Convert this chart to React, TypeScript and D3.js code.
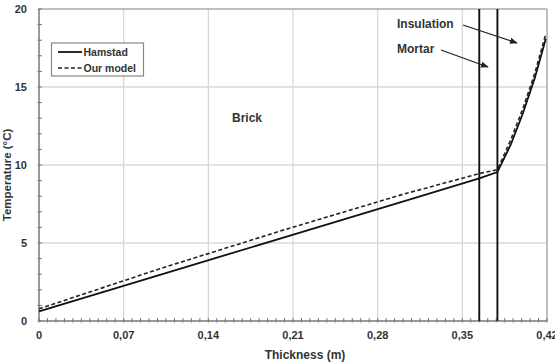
import React from "react";
import * as d3 from "d3";

const xTickValues = [0, 0.07, 0.14, 0.21, 0.28, 0.35, 0.42];
const xTickLabels = ["0", "0,07", "0,14", "0,21", "0,28", "0,35", "0,42"];
const yTickValues = [0, 5, 10, 15, 20];
const yTickLabels = ["0", "5", "10", "15", "20"];

const hamstadX = [0, 0.1, 0.2, 0.3, 0.364, 0.379, 0.39, 0.4, 0.41, 0.419];
const hamstadT = [0.62, 2.96, 5.3, 7.64, 9.14, 9.55, 11.3, 13.3, 15.6, 18.1];
const modelX = [0, 0.1, 0.2, 0.3, 0.364, 0.379, 0.39, 0.4, 0.41, 0.419];
const modelT = [0.78, 3.35, 5.78, 8.1, 9.45, 9.7, 11.6, 13.6, 15.9, 18.4];

const layerBounds = [0.364, 0.379];

const W = 555;
const H = 363;
const FONT = "'Liberation Sans', Arial, sans-serif";

export default function App() {
  const x = d3.scaleLinear().domain([0, 0.42]).range([39, 547]);
  const y = d3.scaleLinear().domain([0, 20]).range([321, 9]);

  const line = d3
    .line<[number, number]>()
    .x((d) => x(d[0]))
    .y((d) => y(d[1]));

  const hamstad = hamstadX.map((v, i) => [v, hamstadT[i]] as [number, number]);
  const model = modelX.map((v, i) => [v, modelT[i]] as [number, number]);

  const xMinor = d3.range(0, 61).map((i) => i * 0.007);
  const yMinor = d3.range(0, 21);

  return (
    <svg
      width={W}
      height={H}
      style={{ position: "absolute", left: 0, top: 0, background: "#fff" }}
      fontFamily={FONT}
    >
      <defs>
        <marker id="arr" viewBox="0 0 10 10" refX="9" refY="5" markerWidth="6" markerHeight="6" orient="auto">
          <path d="M0,1 L10,5 L0,9 z" fill="#222" />
        </marker>
      </defs>
      {/* grid */}
      {xTickValues.slice(1, -1).map((v) => (
        <line key={"gx" + v} x1={x(v)} x2={x(v)} y1={y(20)} y2={y(0)} stroke="#d8d8d8" strokeWidth={1.3} />
      ))}
      {yTickValues.slice(1, -1).map((v) => (
        <line key={"gy" + v} x1={x(0)} x2={x(0.42)} y1={y(v)} y2={y(v)} stroke="#d8d8d8" strokeWidth={1.3} />
      ))}
      {/* frame */}
      <line x1={x(0)} x2={x(0.42)} y1={y(20)} y2={y(20)} stroke="#aaa" strokeWidth={1.5} />
      <line x1={x(0.42)} x2={x(0.42)} y1={y(20)} y2={y(0)} stroke="#aaa" strokeWidth={1.5} />
      <line x1={x(0)} x2={x(0)} y1={y(20)} y2={y(0)} stroke="#777" strokeWidth={1.5} />
      <line x1={x(0)} x2={x(0.42)} y1={y(0)} y2={y(0)} stroke="#777" strokeWidth={1.5} />
      {/* minor ticks */}
      {xMinor.map((v, i) => (
        <line key={"mx" + i} x1={x(v)} x2={x(v)} y1={y(0) - 3} y2={y(0) + 1.5} stroke="#777" strokeWidth={1} />
      ))}
      {yMinor.map((v) => (
        <line key={"my" + v} x1={x(0) - 1.5} x2={x(0) + 3} y1={y(v)} y2={y(v)} stroke="#777" strokeWidth={1} />
      ))}
      {/* tick labels */}
      {xTickValues.map((v, i) => (
        <text key={"xl" + v} x={x(v)} y={339} textAnchor="middle" fontSize={11} fontWeight="bold" fill="#333">
          {xTickLabels[i]}
        </text>
      ))}
      {yTickValues.map((v, i) => (
        <text key={"yl" + v} x={27} y={y(v) + 4} textAnchor="end" fontSize={11} fontWeight="bold" fill="#333">
          {yTickLabels[i]}
        </text>
      ))}
      <text x={305} y={359} textAnchor="middle" fontSize={12} fontWeight="bold" fill="#333">
        Thickness (m)
      </text>
      <text
        transform={`translate(11,175) rotate(-90)`}
        textAnchor="middle"
        fontSize={11.5}
        fontWeight="bold"
        fill="#333"
      >
        Temperature (°C)
      </text>
      {/* layer boundaries */}
      {layerBounds.map((v) => (
        <line key={"lb" + v} x1={x(v)} x2={x(v)} y1={y(20)} y2={y(0)} stroke="#111" strokeWidth={1.9} />
      ))}
      {/* data lines */}
      <path d={line(hamstad) || ""} fill="none" stroke="#111" strokeWidth={1.8} />
      <path d={line(model) || ""} fill="none" stroke="#222" strokeWidth={1.6} strokeDasharray="4,2.5" />
      {/* annotations */}
      <text x={247} y={122} textAnchor="middle" fontSize={12} fontWeight="bold" fill="#333">
        Brick
      </text>
      <text x={397} y={27.5} fontSize={12} fontWeight="bold" fill="#333">
        Insulation
      </text>
      <text x={397} y={52.5} fontSize={12} fontWeight="bold" fill="#333">
        Mortar
      </text>
      <line x1={463} y1={25} x2={517} y2={43} stroke="#222" strokeWidth={1.3} markerEnd="url(#arr)" />
      <line x1={441} y1={50} x2={488} y2={67} stroke="#222" strokeWidth={1.3} markerEnd="url(#arr)" />
      {/* legend */}
      <rect x={51.5} y={43} width={92} height={33} fill="#fff" stroke="#888" strokeWidth={1.2} />
      <line x1={58} x2={82} y1={52} y2={52} stroke="#111" strokeWidth={1.8} />
      <line x1={58} x2={82} y1={68} y2={68} stroke="#222" strokeWidth={1.6} strokeDasharray="4,2.5" />
      <text x={83.5} y={55.5} fontSize={10.5} fontWeight="bold" fill="#333">
        Hamstad
      </text>
      <text x={83.5} y={71.5} fontSize={10.5} fontWeight="bold" fill="#333">
        Our model
      </text>
    </svg>
  );
}
